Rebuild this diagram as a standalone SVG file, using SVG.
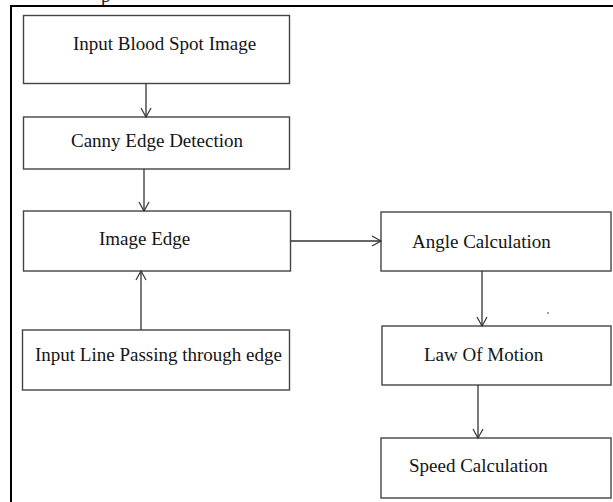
<svg xmlns="http://www.w3.org/2000/svg" width="613" height="502" viewBox="0 0 613 502">
  <style>
    .box { fill: #ffffff; stroke: #444444; stroke-width: 1.4; }
    .lbl { font-family: "Liberation Serif", "Times New Roman", serif; font-size: 19px; fill: #141414; }
    .conn { stroke: #333333; stroke-width: 1.3; fill: none; }
    .frame { stroke: #000000; stroke-width: 2; fill: none; }
  </style>
  <defs>
    <marker id="arr" markerUnits="userSpaceOnUse" markerWidth="14" markerHeight="14" refX="10" refY="6" orient="auto">
      <path d="M1,1 L10,6 L1,11" fill="none" stroke="#333333" stroke-width="1.2"/>
    </marker>
  </defs>
  <rect x="0" y="0" width="613" height="502" fill="#ffffff"/>
  <text class="lbl" x="101" y="2">p</text>
  <path class="frame" d="M11,502 L11,6 L613,6"/>

  <g id="n1">
    <rect class="box" x="23.5" y="15.5" width="266" height="68"/>
    <text class="lbl" x="73" y="50">Input Blood Spot Image</text>
  </g>
  <g id="n2">
    <rect class="box" x="23.5" y="117" width="266" height="52"/>
    <text class="lbl" x="71" y="147">Canny Edge Detection</text>
  </g>
  <g id="n3">
    <rect class="box" x="23.5" y="211" width="267" height="60"/>
    <text class="lbl" x="99" y="245">Image Edge</text>
  </g>
  <g id="n4">
    <rect class="box" x="22.5" y="330" width="267" height="60"/>
    <text class="lbl" x="35" y="361">Input Line Passing through edge</text>
  </g>
  <g id="n5">
    <rect class="box" x="381" y="212" width="230" height="59"/>
    <text class="lbl" x="412" y="248">Angle Calculation</text>
  </g>
  <g id="n6">
    <rect class="box" x="382" y="326" width="229" height="59"/>
    <text class="lbl" x="424" y="361">Law Of Motion</text>
  </g>
  <g id="n7">
    <rect class="box" x="381" y="438" width="230" height="60"/>
    <text class="lbl" x="409" y="472">Speed Calculation</text>
  </g>

  <g id="connectors">
    <line class="conn" x1="146" y1="83.5" x2="146" y2="117" marker-end="url(#arr)"/>
    <line class="conn" x1="144" y1="169" x2="144" y2="211" marker-end="url(#arr)"/>
    <line class="conn" x1="141" y1="330" x2="141" y2="271" marker-end="url(#arr)"/>
    <line class="conn" x1="290.5" y1="241" x2="381" y2="241" marker-end="url(#arr)"/>
    <line class="conn" x1="482" y1="271" x2="482" y2="326" marker-end="url(#arr)"/>
    <line class="conn" x1="478" y1="385" x2="478" y2="438" marker-end="url(#arr)"/>
  </g>
  <circle cx="548" cy="313" r="0.8" fill="#333333"/>
</svg>
